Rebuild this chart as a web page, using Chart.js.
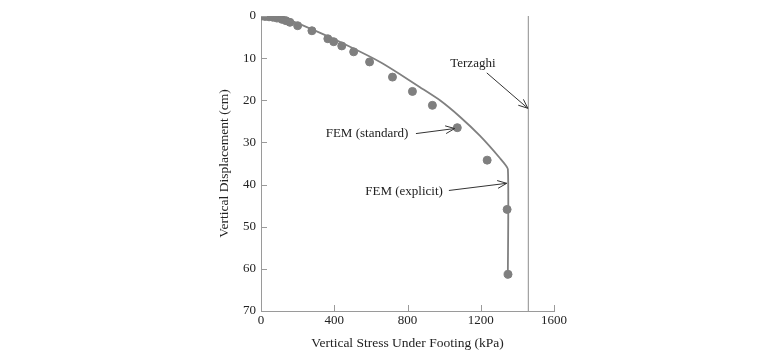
<!DOCTYPE html>
<html>
<head>
<meta charset="utf-8">
<script src="https://cdn.jsdelivr.net/npm/chart.js@4.4.1/dist/chart.umd.min.js"></script>
<style>
  html, body { margin: 0; padding: 0; background: #fff; }
  #wrap { width: 768px; height: 352px; }
</style>
</head>
<body>
<div id="wrap"><canvas id="chart" width="768" height="352"></canvas></div>
<script>
// FEM (standard) results, dots: stress (kPa) and displacement (cm)
const standardStress = [5, 22, 44, 65, 87, 114, 136, 158, 200, 278, 365, 397, 441, 506, 593, 718, 827, 936, 1072, 1235, 1344, 1349];
const standardDisp   = [0, 0.1, 0.2, 0.3, 0.5, 0.8, 1.1, 1.5, 2.3, 3.5, 5.4, 6.1, 7.1, 8.5, 10.9, 14.5, 17.9, 21.2, 26.5, 34.2, 45.9, 61.3];

// FEM (explicit) curve
const explicitStress = [0, 160, 323, 486, 650, 759, 868, 977, 1086, 1195, 1304, 1348, 1348];
const explicitDisp   = [0, 1.1, 4.0, 7.3, 10.9, 13.8, 16.9, 20.0, 23.9, 28.4, 33.7, 36.3, 61.3];

// Terzaghi limit
const terzaghiStress = 1460;
const terzaghiDisp = [0, 70];

const xTicks = [0, 400, 800, 1200, 1600];
const yTicks = [0, 10, 20, 30, 40, 50, 60, 70];

// labels with arrows, in data units
const notes = [
  { text: 'Terzaghi',       tx: 1157, ty: 11.4, ax: 1233, ay: 13.5, bx: 1457, by: 21.9 },
  { text: 'FEM (standard)', tx: 579,  ty: 27.9, ax: 846,  ay: 27.9, bx: 1058, by: 26.7 },
  { text: 'FEM (explicit)', tx: 781,  ty: 41.6, ax: 1026, ay: 41.4, bx: 1342, by: 39.7 }
];

const SERIF = '"Liberation Serif", "Times New Roman", serif';
const AXIS = '#9a9a9a';

const pts = (xs, ys) => xs.map((x, i) => ({ x: x, y: ys[i] }));

const notesPlugin = {
  id: 'notes',
  afterDatasetsDraw(chart) {
    const { ctx, scales: { x, y } } = chart;
    ctx.save();
    ctx.font = '13px ' + SERIF;
    ctx.fillStyle = '#222';
    ctx.textAlign = 'center';
    ctx.textBaseline = 'middle';
    ctx.strokeStyle = '#333';
    ctx.lineWidth = 1;
    notes.forEach(n => {
      ctx.fillText(n.text, x.getPixelForValue(n.tx), y.getPixelForValue(n.ty));
      const x1 = x.getPixelForValue(n.ax), y1 = y.getPixelForValue(n.ay);
      const x2 = x.getPixelForValue(n.bx), y2 = y.getPixelForValue(n.by);
      const a = Math.atan2(y2 - y1, x2 - x1);
      ctx.beginPath();
      ctx.moveTo(x1, y1);
      ctx.lineTo(x2, y2);
      ctx.moveTo(x2 - 10 * Math.cos(a - 0.4), y2 - 10 * Math.sin(a - 0.4));
      ctx.lineTo(x2, y2);
      ctx.lineTo(x2 - 10 * Math.cos(a + 0.4), y2 - 10 * Math.sin(a + 0.4));
      ctx.stroke();
    });
    ctx.restore();
  }
};

// inward tick marks
const innerTicks = {
  id: 'innerTicks',
  afterDraw(chart) {
    const { ctx, scales: { x, y }, chartArea } = chart;
    ctx.save();
    ctx.strokeStyle = AXIS;
    ctx.lineWidth = 1;
    ctx.beginPath();
    xTicks.forEach(v => {
      const px = Math.round(x.getPixelForValue(v)) + 0.5;
      ctx.moveTo(px, chartArea.bottom);
      ctx.lineTo(px, chartArea.bottom - 6);
    });
    yTicks.forEach(v => {
      const py = Math.round(y.getPixelForValue(v)) + 0.5;
      ctx.moveTo(chartArea.left, py);
      ctx.lineTo(chartArea.left + 6, py);
    });
    ctx.stroke();
    ctx.restore();
  }
};

new Chart(document.getElementById('chart').getContext('2d'), {
  type: 'scatter',
  data: {
    datasets: [
      {
        label: 'Terzaghi',
        type: 'line',
        data: pts([terzaghiStress, terzaghiStress], terzaghiDisp),
        borderColor: '#a0a0a0',
        borderWidth: 1.2,
        pointRadius: 0
      },
      {
        label: 'FEM (explicit)',
        type: 'line',
        data: pts(explicitStress, explicitDisp),
        borderColor: '#808080',
        borderWidth: 1.8,
        pointRadius: 0,
        tension: 0.15
      },
      {
        label: 'FEM (standard)',
        data: pts(standardStress, standardDisp),
        backgroundColor: '#7f7f7f',
        borderColor: '#7f7f7f',
        pointRadius: 4
      }
    ]
  },
  options: {
    responsive: false,
    animation: false,
    layout: { padding: { left: 0, right: 214, top: 16, bottom: 0 } },
    plugins: {
      legend: { display: false },
      tooltip: { enabled: false }
    },
    scales: {
      x: {
        type: 'linear',
        min: 0, max: 1600,
        afterBuildTicks: s => { s.ticks = xTicks.map(v => ({ value: v })); },
        afterFit: s => { s.height = 41; },
        grid: { display: false, drawTicks: false },
        border: { color: AXIS, width: 1 },
        ticks: { color: '#222', padding: 2, font: { family: SERIF, size: 13 }, callback: v => String(v) },
        title: { display: true, text: 'Vertical Stress Under Footing (kPa)', color: '#222', padding: { top: 4, bottom: 0 }, font: { family: SERIF, size: 13.5 } }
      },
      y: {
        type: 'linear',
        reverse: true,
        min: 0, max: 70,
        afterBuildTicks: s => { s.ticks = yTicks.map(v => ({ value: v })); },
        afterFit: s => { s.width = 261; },
        grid: { display: false, drawTicks: false },
        border: { color: AXIS, width: 1 },
        ticks: { color: '#222', padding: 5, font: { family: SERIF, size: 13 }, callback: v => String(v) },
        title: { display: true, text: 'Vertical Displacement (cm)', color: '#222', padding: { top: 216, bottom: 0 }, font: { family: SERIF, size: 13.5 } }
      }
    }
  },
  plugins: [notesPlugin, innerTicks]
});
</script>
</body>
</html>
